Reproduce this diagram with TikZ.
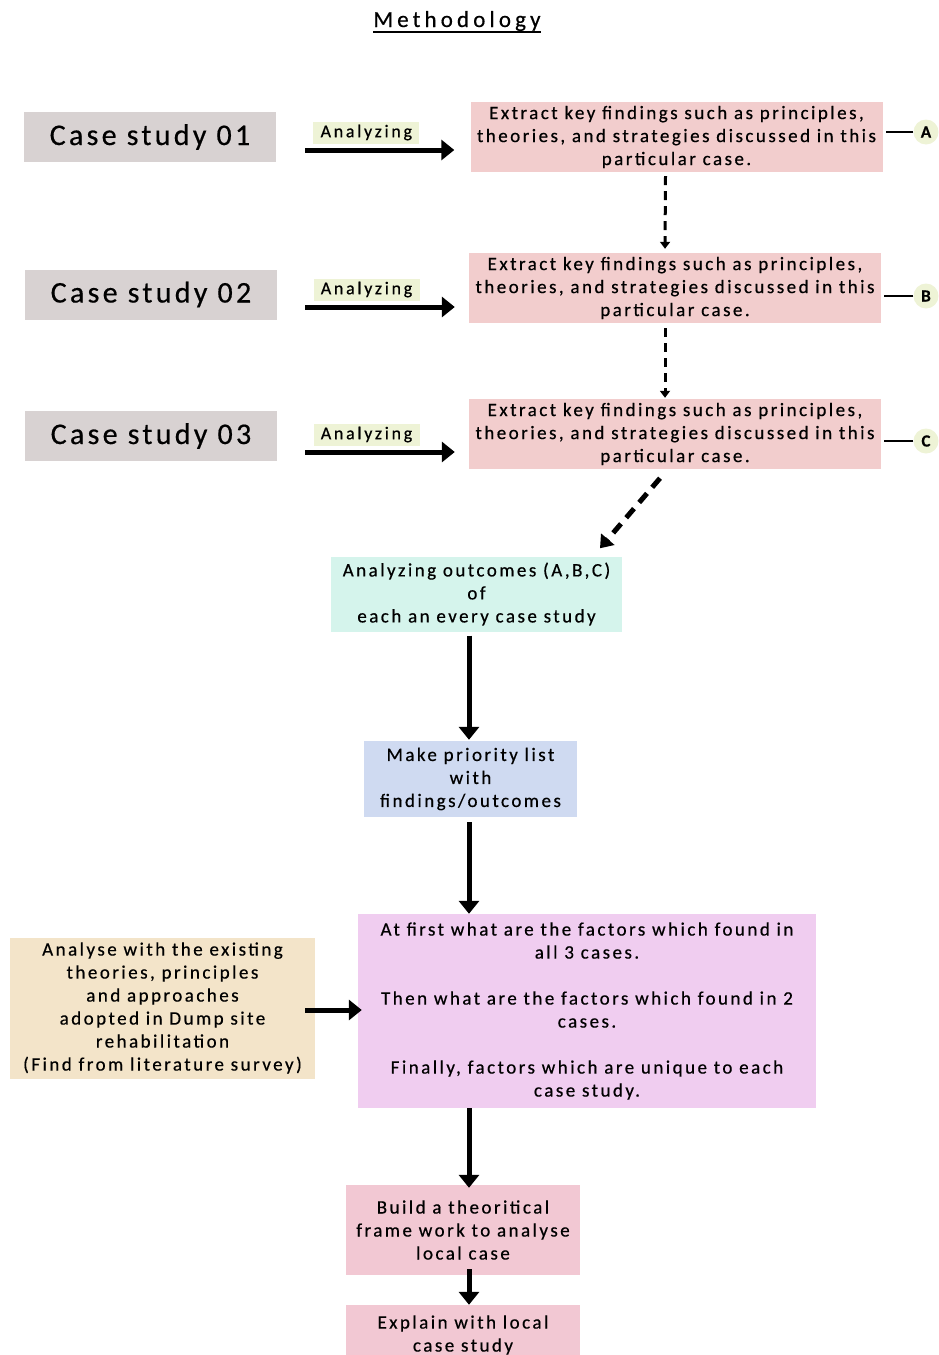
\documentclass[tikz,border=0pt]{standalone}
\usepackage{fontspec}
\setmainfont{Carlito}[LetterSpace=8, FakeBold=0.5]
\usetikzlibrary{arrows.meta}

\definecolor{casegray}{HTML}{D8D2D2}
\definecolor{tagyellow}{HTML}{EEF3D6}
\definecolor{findpink}{HTML}{F2CDCD}
\definecolor{outteal}{HTML}{D5F4EC}
\definecolor{listblue}{HTML}{CFDAF1}
\definecolor{factpurple}{HTML}{F0CDF0}
\definecolor{littan}{HTML}{F3E4C9}
\definecolor{buildpink}{HTML}{F2C8D3}

\tikzset{
  boxtext/.style={font=\fontsize{19}{23}\selectfont\addfontfeatures{LetterSpace=13}, align=center, inner sep=0pt},
  casebox/.style={fill=casegray, minimum width=252, minimum height=50, inner sep=0pt,
    font=\fontsize{30}{34}\selectfont\addfontfeatures{LetterSpace=11}},
  findbox/.style={boxtext, fill=findpink, minimum width=412, minimum height=70},
  tagbox/.style={fill=tagyellow, minimum width=106, minimum height=22, inner sep=0pt,
    font=\fontsize{18}{22}\selectfont\addfontfeatures{LetterSpace=15}},
  lettercirc/.style={circle, fill=tagyellow, minimum size=25, inner sep=0pt,
    font=\fontsize{17}{18}\selectfont\bfseries},
  bigarrow/.style={line width=5pt, -{Triangle[length=13pt, width=20pt]}},
  dasharrow/.style={line width=3pt, dash pattern=on 9pt off 6pt, -{Triangle[length=7pt, width=10pt]}},
}

\begin{document}
\begin{tikzpicture}[x=1pt, y=-1pt]
\useasboundingbox (0,0) rectangle (938,1355);

% title
\node[inner sep=0pt, font=\fontsize{23}{26}\selectfont\addfontfeatures{LetterSpace=18}] (title) at (457,21) {Methodology};
\draw[line width=1.3pt] ([yshift=-5pt]title.base west) -- ([yshift=-5pt]title.base east);

% case studies
\node[casebox] (cs1) at (150,137) {Case study 01};
\node[casebox] (cs2) at (151,294.5) {Case study 02};
\node[casebox] (cs3) at (151,436) {Case study 03};

% key findings
\node[findbox] (kf1) at (676.5,137) {Extract key findings such as principles,\\theories, and strategies discussed in this\\particular case.};
\node[findbox] (kf2) at (675,288) {Extract key findings such as principles,\\theories, and strategies discussed in this\\particular case.};
\node[findbox] (kf3) at (675,434) {Extract key findings such as principles,\\theories, and strategies discussed in this\\particular case.};

\draw[bigarrow] ([shift={(29,13)}]cs1.east) -- ([shift={(-16,13)}]kf1.west)
  node[tagbox, pos=0.41, above=4pt] (tag1) {Analyzing};
\draw[bigarrow] ([shift={(28,12.5)}]cs2.east) -- ([shift={(-14,19)}]kf2.west)
  node[tagbox, pos=0.41, above=4pt] (tag2) {Analyzing};
\draw[bigarrow] ([shift={(28,16)}]cs3.east) -- ([shift={(-14,18)}]kf3.west)
  node[tagbox, pos=0.41, above=4pt] (tag3) {Analyzing};

% outcome letters
\node[lettercirc] (cA) at (926,132) {A};
\node[lettercirc] (cB) at (926,296) {B};
\node[lettercirc] (cC) at (926,441) {C};
\draw[line width=2.5pt, shorten >=3pt] (cA.west) -- (cA.west -| kf1.east);
\draw[line width=2.5pt, shorten >=3pt] (cB.west) -- (cB.west -| kf2.east);
\draw[line width=2.5pt, shorten >=3pt] (cC.west) -- (cC.west -| kf3.east);

\draw[dasharrow] ([shift={(-11,4)}]kf1.south) -- ([shift={(-10,-4)}]kf2.north);
\draw[dasharrow] ([shift={(-10,5)}]kf2.south) -- ([shift={(-10,-1)}]kf3.north);

% synthesis steps
\node[boxtext, fill=outteal, minimum width=291, minimum height=75] (outc) at (476.5,594)
  {Analyzing outcomes (A,B,C)\\of\\each an every case study};
\draw[line width=5pt, dash pattern=on 12pt off 8pt, -{Triangle[length=12pt, width=17pt]}]
  ([shift={(-15,9)}]kf3.south) -- ([shift={(123.5,-8)}]outc.north);

\node[boxtext, fill=listblue, minimum width=213, minimum height=76] (prio) at (470.5,779)
  {Make priority list\\with\\findings/outcomes};
\draw[bigarrow] ([shift={(-7.5,4)}]outc.south) -- ([shift={(-1.5,-1)}]prio.north);

\node[boxtext, fill=factpurple, minimum width=458, minimum height=194] (fact) at (587,1011)
  {At first what are the factors which found in\\all 3 cases.\\[23pt]Then what are the factors which found in 2\\cases.\\[23pt]Finally, factors which are unique to each\\case study.};
\draw[bigarrow] ([shift={(-1.5,5)}]prio.south) -- ([xshift=-1.5pt]prio.south |- fact.north);

\node[boxtext, fill=littan, minimum width=305, minimum height=141] (lit) at (162.5,1008)
  {Analyse with the existing\\theories, principles\\and approaches\\adopted in Dump site\\rehabilitation\\(Find from literature survey)};
\draw[bigarrow] ([shift={(-10,2)}]lit.east) -- ([shift={(4,2)}]lit.east -| fact.west);

\node[boxtext, fill=buildpink, minimum width=234, minimum height=90] (frame) at (463,1230)
  {Build a theoritical\\frame work to analyse\\local case};
\draw[bigarrow] ([xshift=6pt]frame.north |- fact.south) -- ([shift={(6,3)}]frame.north);

\node[boxtext, fill=buildpink, minimum width=234, minimum height=60] (local) at (463,1335)
  {Explain with local\\case study};
\draw[bigarrow] ([shift={(6,-6)}]frame.south) -- ([xshift=6pt]local.north);
\end{tikzpicture}
\end{document}
